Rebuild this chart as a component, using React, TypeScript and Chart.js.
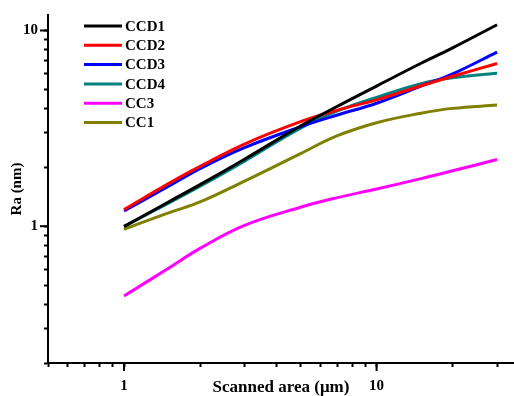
import React, { useEffect, useRef } from 'react';
import { Chart, registerables } from 'chart.js';

Chart.register(...registerables);

const xValues = [1, 1.5, 2, 3, 5, 7, 10, 15, 20, 30];
const ccd1 = [0.995, 1.33, 1.63, 2.2, 3.25, 4.1, 5.2, 6.8, 8.15, 10.7];
const ccd2 = [1.215, 1.65, 2.02, 2.63, 3.42, 3.92, 4.42, 5.22, 5.84, 6.78];
const ccd3 = [1.196, 1.6, 1.97, 2.52, 3.22, 3.7, 4.25, 5.2, 6.0, 7.76];
const ccd4 = [1.0, 1.31, 1.6, 2.15, 3.17, 3.88, 4.55, 5.35, 5.73, 6.05];
const cc3 = [0.44, 0.61, 0.77, 1.01, 1.25, 1.4, 1.55, 1.75, 1.92, 2.19];
const cc1 = [0.965, 1.17, 1.33, 1.7, 2.35, 2.9, 3.38, 3.78, 4.0, 4.16];

const seriesNames = ['CCD1', 'CCD2', 'CCD3', 'CCD4', 'CC3', 'CC1'];
const seriesColors = ['#000000', '#ff0000', '#0000ff', '#008080', '#ff00ff', '#808000'];
const seriesValues = [ccd1, ccd2, ccd3, ccd4, cc3, cc1];

const xTickValues = [0.5, 0.6, 0.7, 0.8, 0.9, 1, 2, 3, 4, 5, 6, 7, 8, 9, 10, 20, 30];
const yTickValues = [0.2, 0.3, 0.4, 0.5, 0.6, 0.7, 0.8, 0.9, 1, 2, 3, 4, 5, 6, 7, 8, 9, 10];
const majorTicks = [1, 10];

const FONT = 'Liberation Serif';

const majorTickPlugin = {
  id: 'majorTicks',
  afterDraw(chart: any) {
    const ctx = chart.ctx;
    const xs = chart.scales.x;
    const ys = chart.scales.y;
    ctx.save();
    ctx.strokeStyle = '#000';
    ctx.lineWidth = 2;
    majorTicks.forEach((v) => {
      const px = xs.getPixelForValue(v);
      ctx.beginPath();
      ctx.moveTo(px, xs.top);
      ctx.lineTo(px, xs.top + 8);
      ctx.stroke();
      const py = ys.getPixelForValue(v);
      ctx.beginPath();
      ctx.moveTo(ys.right, py);
      ctx.lineTo(ys.right - 8, py);
      ctx.stroke();
    });
    ctx.restore();
  },
};

const legendPlugin = {
  id: 'insideLegend',
  afterDraw(chart: any) {
    const ctx = chart.ctx;
    const area = chart.chartArea;
    const x0 = area.left + 36;
    const lineLen = 38;
    const y0 = area.top + 11;
    const step = 19.3;
    ctx.save();
    ctx.font = `bold 15px "${FONT}"`;
    ctx.textBaseline = 'middle';
    ctx.textAlign = 'left';
    chart.data.datasets.forEach((ds: any, i: number) => {
      const y = y0 + i * step;
      ctx.strokeStyle = ds.borderColor;
      ctx.lineWidth = 3;
      ctx.beginPath();
      ctx.moveTo(x0, y);
      ctx.lineTo(x0 + lineLen, y);
      ctx.stroke();
      ctx.fillStyle = '#000';
      ctx.fillText(ds.label, x0 + lineLen + 3, y + 1);
    });
    ctx.restore();
  },
};

export default function App() {
  const canvasRef = useRef<HTMLCanvasElement | null>(null);

  useEffect(() => {
    if (!canvasRef.current) return;
    const datasets = seriesNames.map((name, i) => ({
      label: name,
      data: xValues.map((x, j) => ({ x, y: seriesValues[i][j] })),
      borderColor: seriesColors[i],
      backgroundColor: seriesColors[i],
      borderWidth: 3,
      pointRadius: 0,
      tension: 0.4,
      fill: false,
    }));
    const chart = new Chart(canvasRef.current, {
      type: 'line',
      data: { datasets },
      plugins: [majorTickPlugin, legendPlugin],
      options: {
        animation: false,
        responsive: false,
        layout: { padding: { top: 13, left: 0, right: 0, bottom: 0 } },
        plugins: { legend: { display: false }, tooltip: { enabled: false } },
        scales: {
          x: {
            type: 'logarithmic',
            min: 0.5,
            max: 35,
            afterFit: (s: any) => { s.height = 33; },
            afterBuildTicks: (s: any) => { s.ticks = xTickValues.map((v) => ({ value: v })); },
            grid: { drawOnChartArea: false, drawTicks: true, tickLength: 4, tickWidth: 2, tickColor: '#000' },
            border: { display: true, color: '#000', width: 2 },
            ticks: {
              autoSkip: false,
              maxRotation: 0,
              padding: 10,
              color: '#000',
              font: { family: FONT, size: 15, weight: 'bold' },
              callback: (v: any) => (majorTicks.includes(Number(v)) ? String(v) : ''),
            },
            title: {
              display: true,
              text: 'Scanned area (\u03bcm)',
              color: '#000',
              font: { family: FONT, size: 17, weight: 'bold', lineHeight: 1 },
              padding: { top: 0, bottom: 0 },
            },
          },
          y: {
            type: 'logarithmic',
            min: 0.2,
            max: 12,
            afterFit: (s: any) => { s.width = 48; },
            afterBuildTicks: (s: any) => { s.ticks = yTickValues.map((v) => ({ value: v })); },
            grid: { drawOnChartArea: false, drawTicks: true, tickLength: 4, tickWidth: 2, tickColor: '#000' },
            border: { display: true, color: '#000', width: 2 },
            ticks: {
              autoSkip: false,
              padding: 6,
              color: '#000',
              font: { family: FONT, size: 15, weight: 'bold' },
              callback: (v: any) => (majorTicks.includes(Number(v)) ? String(v) : ''),
            },
            title: {
              display: true,
              text: 'Ra (nm)',
              color: '#000',
              font: { family: FONT, size: 15, weight: 'bold', lineHeight: 1 },
              padding: { top: 9.5, bottom: 0 },
            },
          },
        },
      },
    });
    return () => chart.destroy();
  }, []);

  return (
    <div style={{ position: 'fixed', left: 0, top: 0, width: 514, height: 396, background: '#fff' }}>
      <canvas ref={canvasRef} width={514} height={396} style={{ display: 'block', width: 514, height: 396 }} />
    </div>
  );
}
